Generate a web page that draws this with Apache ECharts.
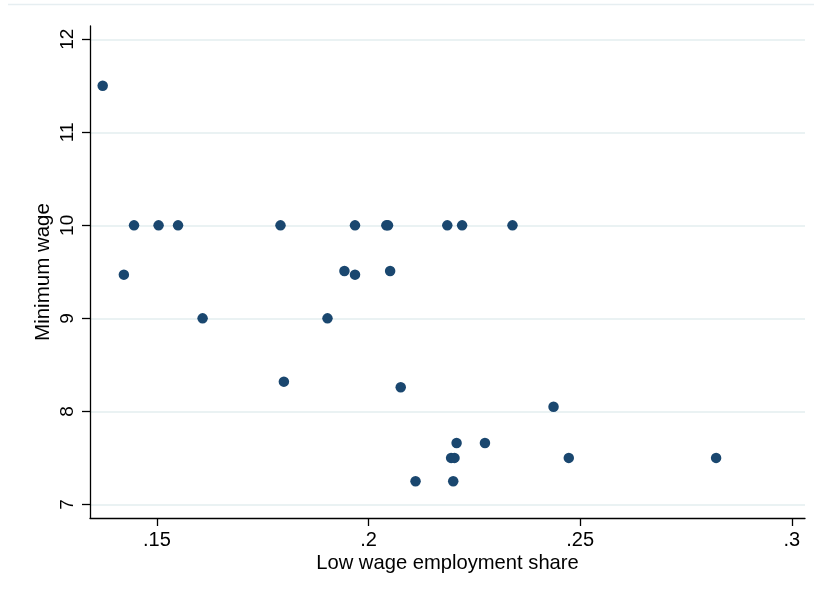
<!DOCTYPE html>
<html>
<head>
<meta charset="utf-8">
<script src="https://cdn.jsdelivr.net/npm/echarts@6/dist/echarts.min.js"></script>
<style>
html,body{margin:0;padding:0;background:#fff;}
#chart{width:814px;height:599px;}
</style>
</head>
<body>
<div id="chart"></div>
<script>
// Data
var lowWageShare = [0.1372, 0.1422, 0.1446, 0.1504, 0.1550, 0.1608, 0.1792, 0.1800, 0.1903, 0.1943,
                    0.1968, 0.1968, 0.2042, 0.2046, 0.2051, 0.2076, 0.2111, 0.2186, 0.2195, 0.2203,
                    0.2200, 0.2208, 0.2221, 0.2275, 0.2340, 0.2437, 0.2473, 0.2821];
var minimumWage  = [11.5, 9.47, 10, 10, 10, 9, 10, 8.32, 9, 9.51,
                    10, 9.47, 10, 10, 9.51, 8.26, 7.25, 10, 7.5, 7.5,
                    7.25, 7.66, 10, 7.66, 10, 8.05, 7.5, 7.5];
var xTickValues = [0.15, 0.2, 0.25, 0.3];
var xTickLabels = ['.15', '.2', '.25', '.3'];
var yTickValues = [7, 8, 9, 10, 11, 12];
var yTickLabels = ['7', '8', '9', '10', '11', '12'];
var xTitle = 'Low wage employment share';
var yTitle = 'Minimum wage';

function labelFor(values, labels) {
  return function (v) {
    for (var i = 0; i < values.length; i++) {
      if (Math.abs(values[i] - v) < 1e-9) return labels[i];
    }
    return '';
  };
}

var points = lowWageShare.map(function (x, i) { return [x, minimumWage[i]]; });
var FONT = '"Liberation Sans", Arial, sans-serif';

var chart = echarts.init(document.getElementById('chart'), null, {renderer: 'canvas'});
chart.setOption({
  animation: false,
  backgroundColor: '#ffffff',
  graphic: [{
    type: 'line',
    shape: {x1: 8, y1: 4.5, x2: 814, y2: 4.5},
    style: {stroke: '#e6eef1', lineWidth: 1.5},
    silent: true
  }],
  grid: {left: 90, right: 9, top: 26, bottom: 81},
  xAxis: {
    type: 'value',
    min: 0.1342,
    max: 0.3031,
    name: xTitle,
    nameLocation: 'middle',
    nameGap: 35,
    nameMoveOverlap: false,
    nameTextStyle: {fontSize: 20.2, color: '#000', fontFamily: FONT},
    axisLine: {show: true, onZero: false, lineStyle: {color: '#000', width: 1.3}},
    axisTick: {show: true, length: 8, customValues: xTickValues, lineStyle: {color: '#000', width: 1.3}},
    axisLabel: {customValues: xTickValues, formatter: labelFor(xTickValues, xTickLabels),
                fontSize: 20, color: '#000', fontFamily: FONT, margin: 12},
    splitLine: {show: false}
  },
  yAxis: {
    type: 'value',
    min: 6.854,
    max: 12.143,
    name: yTitle,
    nameLocation: 'middle',
    nameGap: 36,
    nameMoveOverlap: false,
    nameTextStyle: {fontSize: 20.5, color: '#000', fontFamily: FONT},
    axisLine: {show: true, onZero: false, lineStyle: {color: '#000', width: 1.3}},
    axisTick: {show: true, length: 8, customValues: yTickValues, lineStyle: {color: '#000', width: 1.3}},
    axisLabel: {customValues: yTickValues, formatter: labelFor(yTickValues, yTickLabels),
                rotate: 90, fontSize: 19, color: '#000', fontFamily: FONT, margin: 13},
    splitLine: {show: true, lineStyle: {color: '#eaf2f3', width: 2}}
  },
  series: [{
    type: 'scatter',
    data: points,
    symbol: 'circle',
    symbolSize: 10.5,
    itemStyle: {color: '#1a476f', opacity: 1},
    silent: true
  }]
});
</script>
</body>
</html>
